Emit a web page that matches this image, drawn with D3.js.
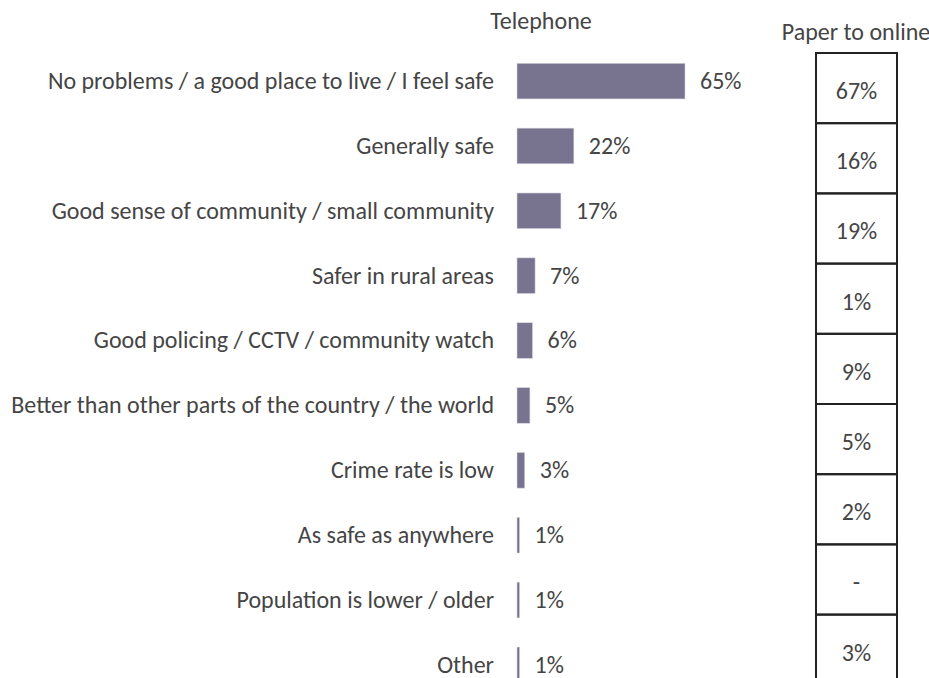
<!DOCTYPE html>
<html>
<head>
<meta charset="utf-8">
<script src="https://cdn.jsdelivr.net/npm/d3@7/dist/d3.min.js"></script>
<style>
  html, body { margin: 0; padding: 0; background: #ffffff; }
  svg text { font-family: Carlito, "Open Sans", sans-serif; fill: #454545; }
</style>
</head>
<body>
<svg id="chart" width="929" height="678"></svg>
<script>
// Reasons for feeling safe, by survey mode
const categories = [
  "No problems / a good place to live / I feel safe",
  "Generally safe",
  "Good sense of community / small community",
  "Safer in rural areas",
  "Good policing / CCTV / community watch",
  "Better than other parts of the country / the world",
  "Crime rate is low",
  "As safe as anywhere",
  "Population is lower / older",
  "Other"
];
const telephoneValues = [65, 22, 17, 7, 6, 5, 3, 1, 1, 1];
// null = no responses ("-")
const paperOnlineValues = [67, 16, 19, 1, 9, 5, 2, null, 3];
const headers = ["Telephone", "Paper to online"];

const svg = d3.select("#chart");
const fmt = v => v == null ? "-" : v + "%";
const FS = "24px";

// Telephone bars
const x = d3.scaleLinear().domain([0, 65]).range([517, 685]);
const y = d3.scaleBand().domain(categories).range([49, 697]).paddingInner(0.45).paddingOuter(0.22);

svg.append("text")
  .attr("x", 541).attr("y", 29)
  .attr("text-anchor", "middle")
  .style("font-size", FS)
  .text(headers[0]);

const rows = svg.append("g").selectAll("g")
  .data(categories.map((c, i) => ({ c, v: telephoneValues[i] })))
  .join("g");

rows.append("rect")
  .attr("x", x(0))
  .attr("y", d => y(d.c))
  .attr("width", d => Math.max(0, x(d.v) - x(0)))
  .attr("height", y.bandwidth())
  .attr("fill", "#78738f")
  .attr("stroke", "#d8d6e0")
  .attr("stroke-width", 0.6);

rows.append("text")
  .attr("x", 494)
  .attr("y", d => y(d.c) + y.bandwidth() / 2)
  .attr("dy", "0.33em")
  .attr("text-anchor", "end")
  .style("font-size", FS)
  .text(d => d.c);

rows.append("text")
  .attr("x", d => x(d.v) + 15)
  .attr("y", d => y(d.c) + y.bandwidth() / 2)
  .attr("dy", "0.33em")
  .style("font-size", FS)
  .text(d => fmt(d.v));

// Paper to online column as a bordered table
const cellY = d3.scaleBand()
  .domain(d3.range(paperOnlineValues.length + 1))
  .range([53, 53 + 70.2 * (paperOnlineValues.length + 1)]);
const colX0 = 816, colX1 = 897;

svg.append("text")
  .attr("x", 856).attr("y", 40)
  .attr("text-anchor", "middle")
  .style("font-size", FS)
  .text(headers[1]);

const cells = svg.append("g").selectAll("g")
  .data(paperOnlineValues)
  .join("g");

cells.append("rect")
  .attr("x", colX0)
  .attr("y", (d, i) => cellY(i))
  .attr("width", colX1 - colX0)
  .attr("height", cellY.bandwidth())
  .attr("fill", "none")
  .attr("stroke", "#222222")
  .attr("stroke-width", 2);

cells.append("text")
  .attr("x", (colX0 + colX1) / 2)
  .attr("y", (d, i) => cellY(i) + cellY.bandwidth() / 2 + 3)
  .attr("dy", "0.33em")
  .attr("text-anchor", "middle")
  .style("font-size", FS)
  .text(d => fmt(d));
</script>
</body>
</html>
